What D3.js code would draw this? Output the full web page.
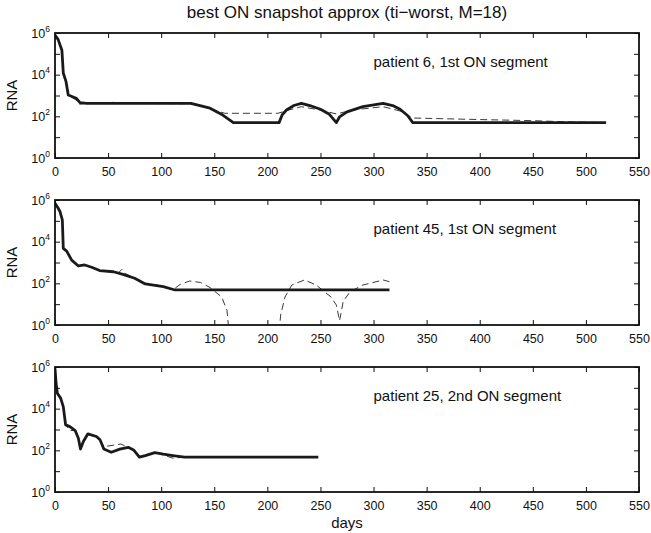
<!DOCTYPE html>
<html lang="en">
<head>
    <meta charset="UTF-8">
    <script src="https://cdn.jsdelivr.net/npm/d3@7"></script>
    <title>best ON snapshot approx</title>
    <style>
        body {
            margin: 0;
            background: white;
        }

        text {
            font-family: 'Liberation Sans', Arial, sans-serif;
            fill: #111;
        }

        .axis path,
        .axis line {
            stroke: #111;
        }

        .solid {
            fill: none;
            stroke: #1a1a1a;
            stroke-width: 2.8px;
            stroke-linejoin: round;
        }

        .dashed {
            fill: none;
            stroke: #3a3a3a;
            stroke-width: 1px;
            stroke-dasharray: 7 4;
        }
    </style>
</head>
<body>
    <div id="chart"></div>
    <script>
        // tick labels
        const xTicks = [0, 50, 100, 150, 200, 250, 300, 350, 400, 450, 500, 550];
        const yTicks = [1, 10, 100, 1000, 10000, 100000, 1000000];
        const yLabelExps = [0, 2, 4, 6];

        const titleText = "best ON snapshot approx (ti\u2212worst, M=18)";
        const panelNames = ["patient 6, 1st ON segment", "patient 45, 1st ON segment", "patient 25, 2nd ON segment"];

        // patient 6 - solid (best approx) and dashed (data)
        const p6Days = [0, 3, 6.5, 7.8, 10.4, 12.5, 20, 23.5, 30, 128, 146, 158, 168, 211, 214, 218, 225, 232, 240, 250, 258, 265, 268, 275, 290, 309, 318, 325, 332, 337, 519];
        const p6Solid = [800000, 480000, 150000, 12000, 4600, 1050, 740, 450, 420, 420, 245, 115, 50, 50, 120, 200, 330, 420, 330, 220, 130, 50, 95, 165, 290, 420, 330, 220, 110, 50, 50];
        const p6DashDays = [0, 3, 6.5, 7.8, 10.4, 12.5, 20, 23, 30, 55, 60, 128, 140, 150, 160, 210, 220, 232, 250, 265, 280, 309, 325, 337, 400, 450, 480, 519];
        const p6Dash = [800000, 480000, 150000, 12000, 4600, 1050, 600, 380, 420, 470, 420, 400, 300, 200, 140, 140, 200, 290, 200, 130, 200, 290, 180, 83, 70, 62, 55, 50];

        // patient 45
        const p45Days = [0, 3, 4.7, 6.9, 7.8, 11, 15.7, 22, 28, 34.5, 42, 55, 64, 75, 85, 102, 113, 315];
        const p45Solid = [700000, 400000, 280000, 110000, 4800, 3500, 1300, 680, 760, 590, 410, 360, 270, 175, 93, 69, 48, 48];
        const p45DashDays = [0, 3, 4.7, 6.9, 7.8, 11, 15.7, 22, 28, 34.5, 42, 55, 60, 63, 66, 75, 85, 102, 111, 118, 127, 137, 146, 157, 162, 165, 210, 212.5, 216.6, 223, 235, 246, 260, 265, 268, 271.5, 278, 290, 309, 315];
        const p45Dash = [700000, 400000, 280000, 110000, 4800, 3500, 1300, 680, 760, 590, 410, 360, 330, 470, 300, 175, 93, 75, 48, 90, 130, 110, 63, 22, 5, 0.1, 0.1, 3, 22, 83, 145, 83, 22, 9, 1.6, 14, 40, 83, 145, 120];

        // patient 25
        const p25Days = [0, 1, 2.2, 5.3, 7.8, 10, 14, 19, 22, 24, 26.7, 31, 39, 42.4, 46, 53, 61, 69, 74, 79.5, 85, 94, 102, 111, 122, 248];
        const p25Solid = [870000, 170000, 55000, 32000, 12600, 1660, 1380, 890, 380, 115, 265, 620, 460, 320, 115, 81, 115, 140, 105, 47, 56, 78, 65, 56, 47, 47];
        const p25DashDays = [0, 1, 2.2, 5.3, 7.8, 10, 14, 19, 22, 24, 26.7, 31, 39, 42.4, 46, 62, 69, 74, 79.5, 85, 94, 102, 111, 122, 248];
        const p25Dash = [870000, 170000, 55000, 32000, 12600, 1660, 900, 890, 380, 115, 265, 620, 460, 320, 150, 200, 140, 105, 47, 56, 78, 60, 42, 47, 47];

        const panels = [
            { name: panelNames[0], days: p6Days, solid: p6Solid, dashDays: p6DashDays, dash: p6Dash },
            { name: panelNames[1], days: p45Days, solid: p45Solid, dashDays: p45DashDays, dash: p45Dash },
            { name: panelNames[2], days: p25Days, solid: p25Solid, dashDays: p25DashDays, dash: p25Dash }
        ];

        const width = 651, height = 533;
        const left = 55, plotW = 584, plotH = 125;
        const panelTops = [33, 200, 367];

        const svg = d3.select("#chart").append("svg")
            .attr("width", width)
            .attr("height", height);

        const x = d3.scaleLinear().domain([0, 550]).range([0, plotW]);
        const y = d3.scaleLog().domain([1, 1e6]).range([plotH, 0]);

        const line = (xs, ys) => d3.line()
            .x((d, i) => x(xs[i]))
            .y((d, i) => y(ys[i]))(ys);

        svg.append("defs").append("clipPath").attr("id", "clip")
            .append("rect").attr("width", plotW).attr("height", plotH);

        panels.forEach((p, k) => {
            const g = svg.append("g").attr("transform", `translate(${left},${panelTops[k]})`);

            g.append("g").attr("clip-path", "url(#clip)")
                .append("path").attr("class", "dashed")
                .attr("d", line(p.dashDays, p.dash));

            g.append("g").attr("clip-path", "url(#clip)")
                .append("path").attr("class", "solid")
                .attr("d", line(p.days, p.solid));

            // axes with inward ticks on all four sides
            g.append("g").attr("class", "axis")
                .attr("transform", `translate(0,${plotH})`)
                .call(d3.axisBottom(x).tickValues(xTicks).tickSizeInner(-5).tickSizeOuter(0).tickPadding(9))
                .call(a => a.selectAll("text").style("font-size", "12.5px"));
            g.append("g").attr("class", "axis")
                .call(d3.axisTop(x).tickValues(xTicks).tickSizeInner(-5).tickSizeOuter(0).tickFormat(""));
            g.append("g").attr("class", "axis")
                .call(d3.axisLeft(y).tickValues(yTicks).tickSizeInner(-5).tickSizeOuter(0).tickFormat(""));
            g.append("g").attr("class", "axis")
                .attr("transform", `translate(${plotW},0)`)
                .call(d3.axisRight(y).tickValues(yTicks).tickSizeInner(-5).tickSizeOuter(0).tickFormat(""));
            g.selectAll(".axis path").remove();

            g.append("rect")
                .attr("width", plotW).attr("height", plotH)
                .attr("fill", "none").attr("stroke", "#111").attr("stroke-width", 1.8);

            // 10^n labels
            yLabelExps.forEach(e => {
                const t = g.append("text")
                    .attr("x", -5).attr("y", y(Math.pow(10, e)) + 4.5)
                    .attr("text-anchor", "end")
                    .style("font-size", "12.5px");
                t.append("tspan").text("10");
                t.append("tspan").attr("dy", -6).style("font-size", "8.5px").text(e);
            });

            g.append("text")
                .attr("transform", `translate(-38,${plotH / 2}) rotate(-90)`)
                .attr("text-anchor", "middle")
                .style("font-size", "15px")
                .text("RNA");

            g.append("text")
                .attr("x", x(300)).attr("y", y(Math.pow(10, 4.6)) + 5)
                .style("font-size", "15px")
                .text(p.name);
        });

        svg.append("text")
            .attr("x", left + plotW / 2).attr("y", 18)
            .attr("text-anchor", "middle")
            .style("font-size", "17px")
            .text(titleText);

        svg.append("text")
            .attr("x", left + plotW / 2).attr("y", 528)
            .attr("text-anchor", "middle")
            .style("font-size", "15px")
            .text("days");
    </script>
</body>
</html>
